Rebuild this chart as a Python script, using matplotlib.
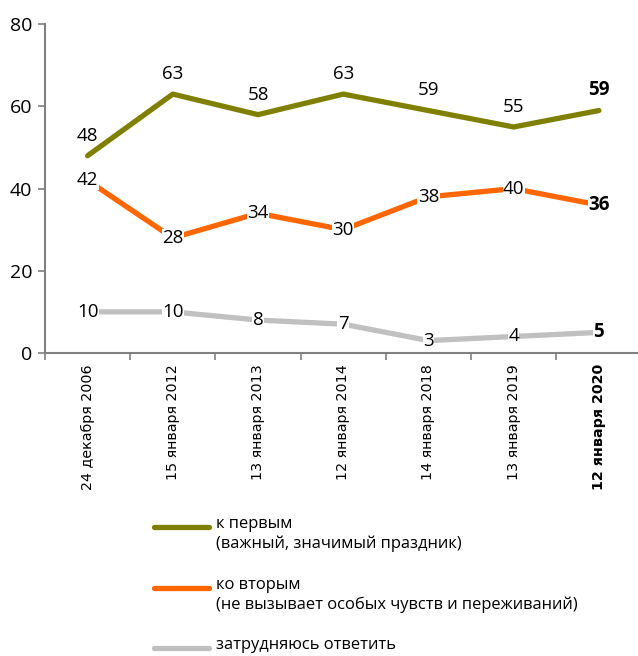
import matplotlib
matplotlib.use('Agg')
import matplotlib.pyplot as plt
from matplotlib.lines import Line2D
import numpy as np

dates = ["24 декабря 2006", "15 января 2012", "13 января 2013", "12 января 2014",
         "14 января 2018", "13 января 2019", "12 января 2020"]
first = [48, 63, 58, 63, 59, 55, 59]
second = [42, 28, 34, 30, 38, 40, 36]
unsure = [10, 10, 8, 7, 3, 4, 5]

labels = ["к первым\n(важный, значимый праздник)",
          "ко вторым\n(не вызывает особых чувств и переживаний)",
          "затрудняюсь ответить"]
colors = ["#808000", "#FF6600", "#C0C0C0"]

plt.rcParams['font.family'] = ['Open Sans', 'DejaVu Sans']

fig = plt.figure(figsize=(6.38, 6.56), dpi=100)
ax = fig.add_axes([0.0705, 0.462, 0.935, 0.501])

x = np.arange(len(dates))
series = [first, second, unsure]
for vals, col in zip(series, colors):
    ax.plot(x, vals, color=col, lw=3.8, solid_capstyle='round', zorder=2)

last = len(dates) - 1
# green labels sit above the line
for i, v in enumerate(first):
    ax.annotate(str(v), (x[i], v), xytext=(0, 14.5), textcoords='offset points',
                ha='center', va='center', fontsize=13.5,
                fontweight='bold' if i == last else 'normal')
# orange / gray labels sit on the line with a white box
for vals in (second, unsure):
    for i, v in enumerate(vals):
        ax.text(x[i], v, str(v), ha='center', va='center', fontsize=13.5,
                fontweight='bold' if i == last else 'normal', zorder=3,
                bbox=dict(boxstyle='square,pad=0.02', fc='white', ec='none'))

ax.set_xlim(-0.5, len(dates) - 0.5)
ax.set_ylim(0, 80)
ax.set_yticks([0, 20, 40, 60, 80])
ax.tick_params(axis='y', labelsize=14, length=5, width=1.2, color='#808080', pad=4)

ax.set_xticks(x)
ax.set_xticklabels(dates, rotation=90, fontsize=10.3, family=['DejaVu Sans'])
ax.get_xticklabels()[last].set_fontweight('bold')
ax.tick_params(axis='x', which='major', length=0, pad=8)
ax.set_xticks(np.arange(len(dates) + 1) - 0.5, minor=True)
ax.tick_params(axis='x', which='minor', length=5, width=1.2, color='#808080')

for s in ['top', 'right']:
    ax.spines[s].set_visible(False)
for s in ['left', 'bottom']:
    ax.spines[s].set_color('#808080')
    ax.spines[s].set_linewidth(1.5)

# legend drawn by hand: handle aligned with the first text line
leg_y = [0.197, 0.104, 0.012]
for yy, lab, col in zip(leg_y, labels, colors):
    fig.add_artist(Line2D([0.241, 0.328], [yy, yy], color=col, lw=3.8,
                          solid_capstyle='round', transform=fig.transFigure))
    fig.text(0.338, yy + 0.017, lab, ha='left', va='top', fontsize=11.9,
             linespacing=1.3, fontweight='medium')

fig.savefig("out.png", dpi=100)
